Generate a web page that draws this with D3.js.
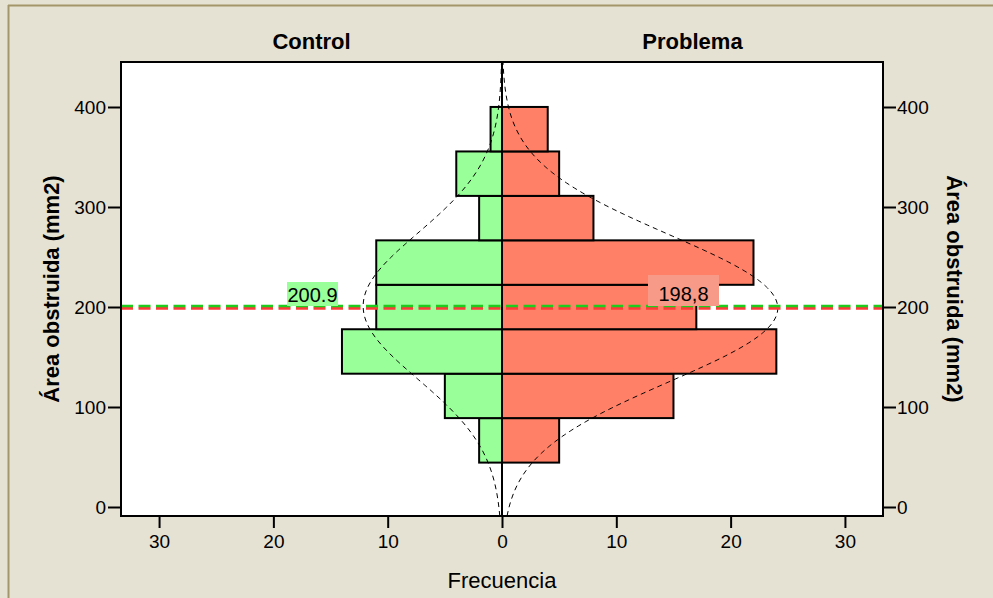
<!DOCTYPE html>
<html>
<head>
<meta charset="utf-8">
<script src="https://cdn.jsdelivr.net/npm/d3@7"></script>
<style>
  body { margin: 0; background: #E6E2D3; }
  svg { display: block; font-family: "Liberation Sans", Arial, sans-serif; }
</style>
</head>
<body>
<svg id="chart" width="993" height="598"></svg>
<script>
// histogram bins (lower edge of each bin, mm2) and counts per group
const binWidth = 400 / 9;
const binLower = [44.4, 88.9, 133.3, 177.8, 222.2, 266.7, 311.1, 355.6];
const controlCounts = [2, 5, 14, 11, 11, 2, 4, 1];
const problemaCounts = [5, 15, 24, 17, 22, 8, 5, 4];

// summary stats used for the normal curves and mean lines
const groups = ["Control", "Problema"];
const groupMeans = [200.9, 198.8];
const groupSD = [73, 73.5];
const groupN = [50, 100];
const meanLabels = ["200.9", "198,8"];

const yTicks = [0, 100, 200, 300, 400];
const xTicks = [0, 10, 20, 30];

const svg = d3.select("#chart");

const pLeft = 121, pRight = 883, pTop = 62, pBottom = 516, mid = 502;

const y = d3.scaleLinear().domain([-9, 445]).range([pBottom, pTop]);
const xL = d3.scaleLinear().domain([0, 33.33]).range([mid, pLeft]);
const xR = d3.scaleLinear().domain([0, 33.33]).range([mid, pRight]);

let colorControl = "#99FF99";
let colorProblema = "#FF8066";
let labelProblema = "#F79A88";
let meanGreen = "#1ECC1E";
let meanRed = "#FF3A3A";
let frameColor = "#A3966A";

// outer frame
svg.append("line").attr("x1", 8).attr("x2", 993).attr("y1", 5.5).attr("y2", 5.5)
  .attr("stroke", frameColor).attr("stroke-width", 2);
svg.append("line").attr("x1", 8.5).attr("x2", 8.5).attr("y1", 5).attr("y2", 598)
  .attr("stroke", frameColor).attr("stroke-width", 2);

// plot area
svg.append("rect")
  .attr("x", pLeft).attr("y", pTop)
  .attr("width", pRight - pLeft).attr("height", pBottom - pTop)
  .attr("fill", "#fff");

// bars
const bars = binLower.map((b, i) => ({ lo: b, hi: b + binWidth, c: controlCounts[i], p: problemaCounts[i] }));

svg.append("g").selectAll("rect")
  .data(bars)
  .join("rect")
  .attr("x", d => xL(d.c))
  .attr("y", d => y(d.hi))
  .attr("width", d => xL(0) - xL(d.c))
  .attr("height", d => y(d.lo) - y(d.hi))
  .attr("fill", colorControl)
  .attr("stroke", "#000")
  .attr("stroke-width", 2);

svg.append("g").selectAll("rect")
  .data(bars)
  .join("rect")
  .attr("x", xR(0))
  .attr("y", d => y(d.hi))
  .attr("width", d => xR(d.p) - xR(0))
  .attr("height", d => y(d.lo) - y(d.hi))
  .attr("fill", colorProblema)
  .attr("stroke", "#000")
  .attr("stroke-width", 2);

// normal curves
const normal = (v, i) => groupN[i] * binWidth / (groupSD[i] * Math.sqrt(2 * Math.PI))
  * Math.exp(-0.5 * Math.pow((v - groupMeans[i]) / groupSD[i], 2));

const vals = d3.range(-9, 445.5, 1);

const curveL = d3.line().x(v => xL(normal(v, 0))).y(v => y(v));
const curveR = d3.line().x(v => xR(normal(v, 1))).y(v => y(v));

svg.append("path").attr("d", curveL(vals))
  .attr("fill", "none").attr("stroke", "#000").attr("stroke-width", 1)
  .attr("stroke-dasharray", "5,4");
svg.append("path").attr("d", curveR(vals))
  .attr("fill", "none").attr("stroke", "#000").attr("stroke-width", 1)
  .attr("stroke-dasharray", "5,4");

// mean lines (red under green)
svg.append("line")
  .attr("x1", pLeft).attr("x2", pRight)
  .attr("y1", y(groupMeans[1]) + 0.2).attr("y2", y(groupMeans[1]) + 0.2)
  .attr("stroke", meanRed).attr("stroke-width", 2.6)
  .attr("stroke-dasharray", "12,5.5");
svg.append("line")
  .attr("x1", pLeft).attr("x2", pRight)
  .attr("y1", y(groupMeans[0]) - 0.1).attr("y2", y(groupMeans[0]) - 0.1)
  .attr("stroke", meanGreen).attr("stroke-width", 2.4)
  .attr("stroke-dasharray", "12,5.5");

// mean labels
const lab = svg.append("g").attr("font-size", 20).attr("fill", "#000");
lab.append("rect").attr("x", 287).attr("y", 282).attr("width", 51).attr("height", 24)
  .attr("fill", colorControl);
lab.append("text").attr("x", 312.5).attr("y", 302).attr("text-anchor", "middle")
  .text(meanLabels[0]);
lab.append("rect").attr("x", 648).attr("y", 275).attr("width", 71).attr("height", 31)
  .attr("fill", labelProblema);
lab.append("text").attr("x", 683.5).attr("y", 301).attr("text-anchor", "middle")
  .text(meanLabels[1]);

// plot border + center line
svg.append("rect")
  .attr("x", pLeft).attr("y", pTop)
  .attr("width", pRight - pLeft).attr("height", pBottom - pTop)
  .attr("fill", "none").attr("stroke", "#000").attr("stroke-width", 2);
svg.append("line").attr("x1", mid).attr("x2", mid).attr("y1", pTop).attr("y2", pBottom)
  .attr("stroke", "#000").attr("stroke-width", 2);

// axes
const styleAxis = g => {
  g.select(".domain").remove();
  g.selectAll(".tick line").attr("stroke", "#000").attr("stroke-width", 2);
  g.selectAll(".tick text").attr("font-size", 19).attr("fill", "#000");
  g.attr("font-family", null);
};

svg.append("g").attr("transform", `translate(${pLeft},0)`)
  .call(d3.axisLeft(y).tickValues(yTicks).tickSize(13).tickPadding(2).tickFormat(d3.format("d")))
  .call(styleAxis);
svg.append("g").attr("transform", `translate(${pRight},0)`)
  .call(d3.axisRight(y).tickValues(yTicks).tickSize(13).tickPadding(1).tickFormat(d3.format("d")))
  .call(styleAxis);
svg.append("g").attr("transform", `translate(0,${pBottom})`)
  .call(d3.axisBottom(xL).tickValues(xTicks).tickSize(12).tickPadding(7).tickFormat(d3.format("d")))
  .call(styleAxis);
svg.append("g").attr("transform", `translate(0,${pBottom})`)
  .call(d3.axisBottom(xR).tickValues(xTicks.slice(1)).tickSize(12).tickPadding(7).tickFormat(d3.format("d")))
  .call(styleAxis);

// titles
svg.append("text").attr("x", (pLeft + mid) / 2).attr("y", 49)
  .attr("text-anchor", "middle").attr("font-size", 22).attr("font-weight", "bold")
  .text(groups[0]);
svg.append("text").attr("x", (mid + pRight) / 2).attr("y", 49)
  .attr("text-anchor", "middle").attr("font-size", 22).attr("font-weight", "bold")
  .text(groups[1]);

svg.append("text").attr("x", mid).attr("y", 588)
  .attr("text-anchor", "middle").attr("font-size", 22)
  .text("Frecuencia");

svg.append("text").attr("transform", `translate(59,${(pTop + pBottom) / 2}) rotate(-90)`)
  .attr("text-anchor", "middle").attr("font-size", 22).attr("font-weight", "bold")
  .text("Área obstruida (mm2)");
svg.append("text").attr("transform", `translate(947,${(pTop + pBottom) / 2}) rotate(90)`)
  .attr("text-anchor", "middle").attr("font-size", 22).attr("font-weight", "bold")
  .text("Área obstruida (mm2)");
</script>
</body>
</html>
